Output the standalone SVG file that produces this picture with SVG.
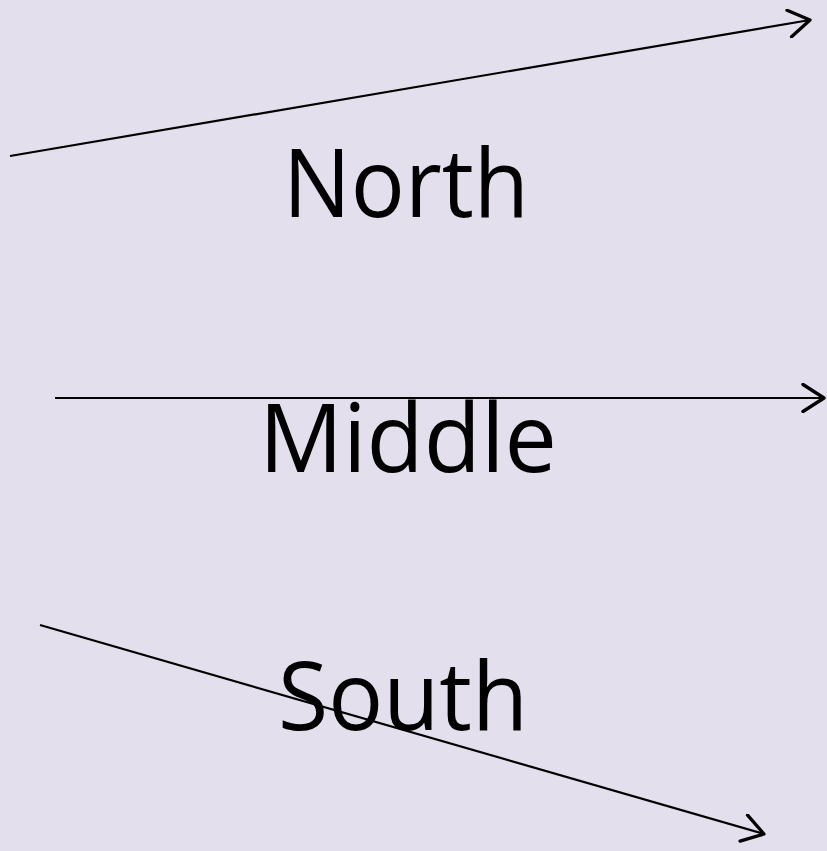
<svg xmlns="http://www.w3.org/2000/svg" width="827" height="851" viewBox="0 0 827 851">
<defs>
<style>
.lbl{font-family:"Open Sans","Liberation Sans",sans-serif;font-size:95px;fill:#000;text-anchor:middle}
.conn{stroke:#000;stroke-width:2.2;fill:none;marker-end:url(#arr)}
</style>
<marker id="arr" markerUnits="userSpaceOnUse" markerWidth="30" markerHeight="30" refX="16" refY="10" orient="auto" viewBox="0 0 20 20">
<path d="M2,1 L16,10 L2,19" fill="none" stroke="#000" stroke-width="2.2" stroke-linecap="round" stroke-linejoin="round"/>
</marker>
</defs>
<rect width="827" height="851" fill="#E4DFEC"/>
<g id="connectors">
<line class="conn" x1="10" y1="156" x2="810" y2="20"/>
<line class="conn" x1="55" y1="398" x2="824" y2="398"/>
<line class="conn" x1="40" y1="625" x2="764" y2="834"/>
</g>
<g id="north"><text class="lbl" x="406" y="217" textLength="246" lengthAdjust="spacingAndGlyphs">North</text></g>
<g id="middle"><text class="lbl" x="408" y="472" textLength="298" lengthAdjust="spacingAndGlyphs">Middle</text></g>
<g id="south"><text class="lbl" x="403" y="730" textLength="250" lengthAdjust="spacingAndGlyphs">South</text></g>
</svg>
